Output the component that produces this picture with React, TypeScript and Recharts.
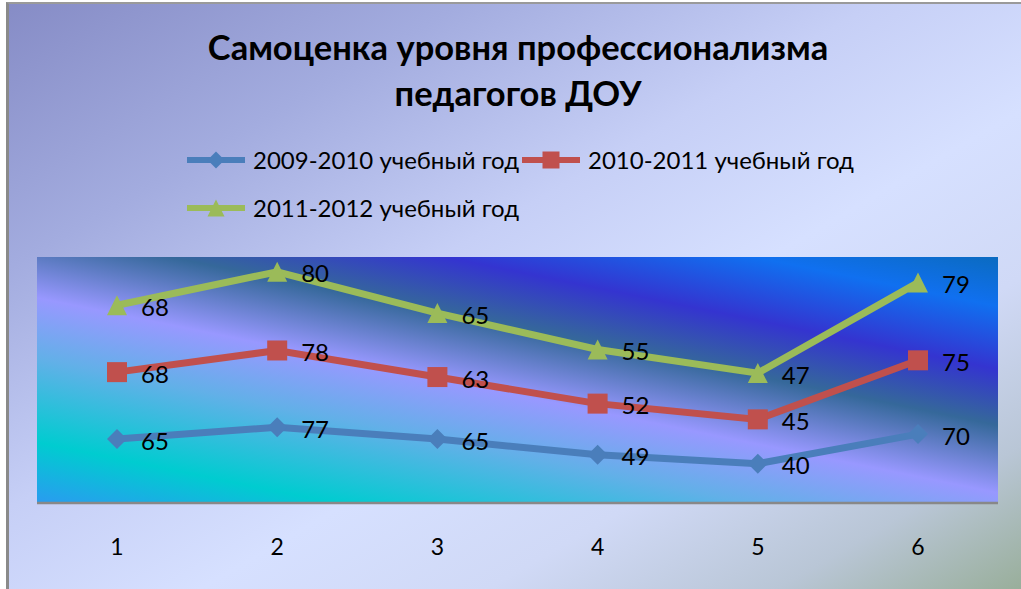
import React from 'react';
import { ComposedChart, Area, XAxis, YAxis, CartesianGrid, LabelList, Legend } from 'recharts';

const categories = ['1', '2', '3', '4', '5', '6'];
const year2009 = [65, 77, 65, 49, 40, 70];
const year2010 = [68, 78, 63, 52, 45, 75];
const year2011 = [68, 80, 65, 55, 47, 79];

const seriesNames = ['2009-2010 учебный год', '2010-2011 учебный год', '2011-2012 учебный год'];
const seriesColors = ['#4A7EBB', '#C0504D', '#9BBB59'];

const data = categories.map((c, i) => ({
  name: c,
  s2009: year2009[i],
  s2010: year2010[i],
  s2011: year2011[i],
}));

const FONT = 'Lato, "Open Sans", sans-serif';

type Shape = 'diamond' | 'square' | 'triangle';

const marker = (shape: Shape, cx: number, cy: number, r: number, fill: string, key?: string) => {
  if (shape === 'diamond') {
    return <polygon key={key} points={`${cx},${cy - r} ${cx + r},${cy} ${cx},${cy + r} ${cx - r},${cy}`} fill={fill} />;
  }
  if (shape === 'square') {
    return <rect key={key} x={cx - r} y={cy - r} width={r * 2} height={r * 2} fill={fill} />;
  }
  return <polygon key={key} points={`${cx},${cy - r} ${cx + r},${cy + r} ${cx - r},${cy + r}`} fill={fill} />;
};

const makeDot = (shape: Shape, fill: string) => (props: any) => {
  const { cx, cy, index } = props;
  if (cx == null || cy == null) return <g key={`d-${shape}-${index}`} />;
  return marker(shape, cx, cy, 10, fill, `d-${shape}-${index}`);
};

const LegendItem: React.FC<{ shape: Shape; color: string; label: string }> = ({ shape, color, label }) => (
  <span style={{ display: 'inline-flex', alignItems: 'center' }}>
    <svg width={58} height={20} style={{ marginRight: 8 }}>
      <line x1={0} y1={10} x2={58} y2={10} stroke={color} strokeWidth={6} />
      {marker(shape, 29, 10, 8.5, color)}
    </svg>
    <span>{label}</span>
  </span>
);

const renderLegend = () => (
  <div style={{ fontFamily: FONT, fontSize: 24, color: '#000', lineHeight: '48px', textAlign: 'left' }}>
    <div style={{ display: 'flex', gap: 3 }}>
      <LegendItem shape="diamond" color={seriesColors[0]} label={seriesNames[0]} />
      <LegendItem shape="square" color={seriesColors[1]} label={seriesNames[1]} />
    </div>
    <div style={{ display: 'flex' }}>
      <LegendItem shape="triangle" color={seriesColors[2]} label={seriesNames[2]} />
    </div>
  </div>
);

const labelProps = { position: 'right' as const, offset: 24, fill: '#000', fontSize: 24, fontFamily: FONT, dy: 2 };

export default function App() {
  return (
    <div style={{ position: 'absolute', left: 0, top: 0, width: 1021, height: 589, overflow: 'hidden', background: '#fff' }}>
      <div
        style={{
          position: 'absolute',
          left: 6,
          top: 2,
          width: 1030,
          height: 600,
          borderLeft: '3px solid #8a8a8a',
          borderTop: '2px solid #9a9a9a',
          background:
            'linear-gradient(to bottom right, #868CC6 0%, #A3ACDF 22%, #C6CFF6 42%, #D6E0FF 58%, #D0D9F6 72%, #B9C6D6 86%, #93AA90 100%)',
        }}
      />
      <div
        style={{
          position: 'absolute',
          left: 0,
          top: 24,
          width: 1036,
          textAlign: 'center',
          fontFamily: FONT,
          fontWeight: 700,
          fontSize: 34.5,
          lineHeight: '46px',
          color: '#000',
        }}
      >
        Самоценка уровня профессионализма
        <br />
        педагогов ДОУ
      </div>
      <ComposedChart
        width={1021}
        height={589}
        data={data}
        margin={{ top: 257, right: 23, bottom: 0, left: 37 }}
        style={{ position: 'absolute', left: 0, top: 0 }}
      >
        <defs>
          <linearGradient id="plotGrad" gradientUnits="userSpaceOnUse" x1={37} y1={503} x2={128} y2={55}>
            <stop offset="0" stopColor="#2A9BF0" />
            <stop offset="0.13" stopColor="#00CCD0" />
            <stop offset="0.31" stopColor="#62B0E8" />
            <stop offset="0.44" stopColor="#9898FF" />
            <stop offset="0.585" stopColor="#35689A" />
            <stop offset="0.705" stopColor="#3434D0" />
            <stop offset="0.84" stopColor="#1070F0" />
            <stop offset="1" stopColor="#0868A8" />
          </linearGradient>
        </defs>
        <CartesianGrid fill="url(#plotGrad)" stroke="none" horizontal={false} vertical={false} />
        <XAxis
          dataKey="name"
          height={86}
          padding={{ left: 80, right: 80 }}
          axisLine={{ stroke: '#888', strokeWidth: 2.5 }}
          tickLine={false}
          tickSize={0}
          tickMargin={36}
          tick={{ fill: '#000', fontSize: 23, fontFamily: FONT }}
        />
        <YAxis hide domain={[0, 250]} />
        <Legend
          content={renderLegend}
          layout="horizontal"
          verticalAlign="middle"
          align="center"
          wrapperStyle={{ top: 136, left: 187, width: 700 }}
        />
        <Area
          type="linear"
          dataKey="s2009"
          stackId="a"
          stroke={seriesColors[0]}
          strokeWidth={7}
          fill="none"
          dot={makeDot('diamond', seriesColors[0])}
          activeDot={false}
          isAnimationActive={false}
        >
          <LabelList dataKey="s2009" {...labelProps} />
        </Area>
        <Area
          type="linear"
          dataKey="s2010"
          stackId="a"
          stroke={seriesColors[1]}
          strokeWidth={7}
          fill="none"
          dot={makeDot('square', seriesColors[1])}
          activeDot={false}
          isAnimationActive={false}
        >
          <LabelList dataKey="s2010" {...labelProps} />
        </Area>
        <Area
          type="linear"
          dataKey="s2011"
          stackId="a"
          stroke={seriesColors[2]}
          strokeWidth={7}
          fill="none"
          dot={makeDot('triangle', seriesColors[2])}
          activeDot={false}
          isAnimationActive={false}
        >
          <LabelList dataKey="s2011" {...labelProps} />
        </Area>
      </ComposedChart>
    </div>
  );
}
